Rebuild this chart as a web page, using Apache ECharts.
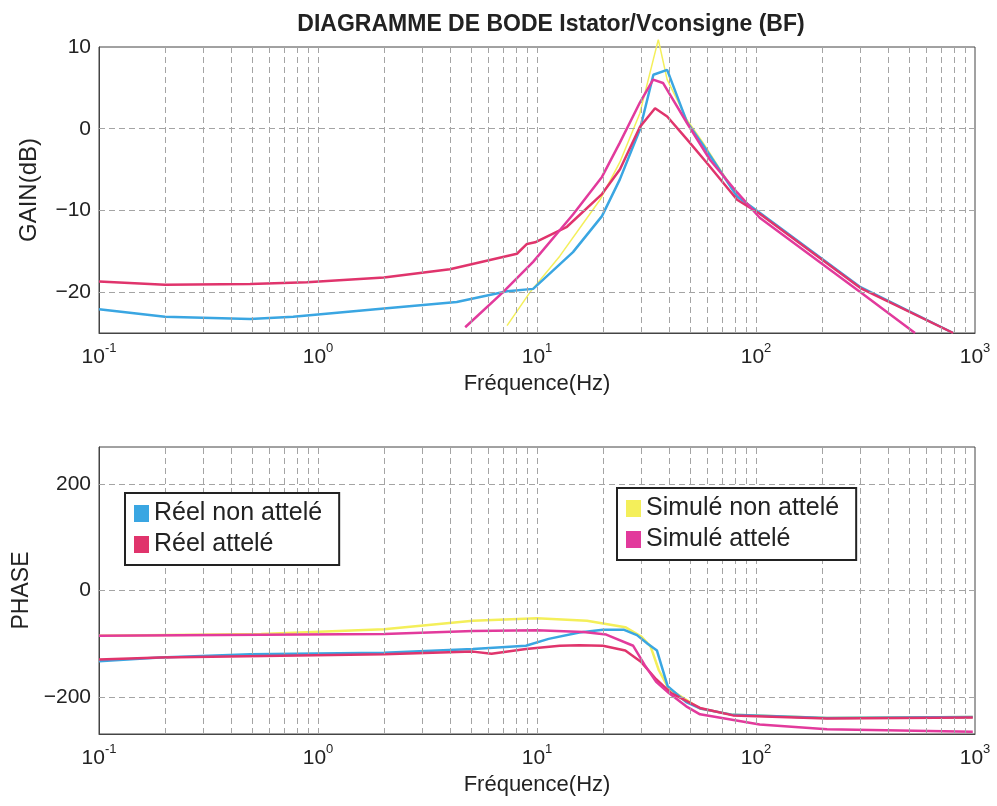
<!DOCTYPE html>
<html>
<head>
<meta charset="utf-8">
<script src="https://cdn.jsdelivr.net/npm/echarts@6/dist/echarts.min.js"></script>
<style>
  html, body { margin: 0; padding: 0; background: #fff; }
  #chart { width: 997px; height: 806px; }
</style>
</head>
<body>
<div id="chart"></div>
<script>
// ---- data (frequency in Hz, value) ----
const gainReelNonAttele = [
  [0.1, -22.1], [0.2, -23.0], [0.49, -23.3], [0.77, -23.0], [2.0, -22.0], [4.3, -21.2],
  [7.3, -19.9], [9.6, -19.6], [14.6, -15.1], [19.8, -10.7], [23.9, -6.2], [29.5, -0.1],
  [34, 6.6], [39.3, 7.2], [48.4, 0.8], [57.3, -2.0], [82, -8.3], [104, -10.3], [300, -19.4], [795, -25]
];
const gainReelAttele = [
  [0.1, -18.7], [0.2, -19.1], [0.49, -19.0], [0.89, -18.8], [2.0, -18.2], [4.0, -17.2],
  [8.1, -15.3], [9.0, -14.1], [9.8, -13.9], [13.7, -12.0], [19.8, -8.0], [23.9, -5.0],
  [29.5, 0.2], [34.6, 2.5], [39.3, 1.5], [48.4, -1.3], [59.7, -4.2], [82, -8.7], [104, -10.4],
  [300, -19.5], [795, -25]
];
const gainSimuleNonAttele = [
  [7.3, -24.1], [9.3, -20.0], [12.7, -15.6], [19.4, -8.7], [23.9, -4.1], [29.5, 1.9],
  [35.8, 10.9], [39.3, 6.0], [48.4, 1.1], [57.3, -1.7], [82, -8.2], [104, -10.3], [300, -19.4], [795, -25]
];
const gainSimuleAttele = [
  [4.7, -24.3], [7.0, -20.0], [9.6, -16.3], [14.6, -10.5], [19.8, -5.9], [23.9, -1.7],
  [29.5, 3.2], [33.9, 6.0], [37.6, 5.6], [48.4, 0.7], [61.6, -3.8], [82, -7.8], [104, -10.9],
  [300, -20.0], [532, -25]
];

const phaseReelNonAttele = [
  [0.1, -133], [0.19, -126], [0.49, -120], [2, -117], [5.1, -110], [8.9, -104], [11.3, -91],
  [15.6, -79], [20, -74], [25, -74], [28.6, -84], [32, -100], [35.3, -113], [39.5, -180],
  [48, -210], [55.5, -222], [78.5, -234], [211, -240], [977, -238]
];
const phaseReelAttele = [
  [0.1, -130], [0.19, -126], [2, -120], [5.1, -115], [6.2, -119], [8.9, -110], [12.7, -104],
  [15.6, -103], [20, -104], [25.3, -113], [29.8, -134], [35, -167], [41, -193], [55.5, -221],
  [78.5, -235], [211, -241], [977, -239]
];
const phaseSimuleNonAttele = [
  [0.1, -85], [0.55, -82], [2, -73], [5.1, -57], [10, -52], [16.9, -57], [25.3, -69],
  [29.8, -86], [33, -105], [36, -150], [40, -185], [55.5, -222], [78.5, -234], [211, -240], [977, -238]
];
const phaseSimuleAttele = [
  [0.1, -85], [2, -82], [5.1, -76], [10, -75], [16.3, -78], [20.7, -83], [27.5, -104],
  [31, -140], [35, -172], [40, -193], [48, -218], [55.5, -233], [104, -252], [211, -261], [977, -266]
];

const gainTicks = [-20, -10, 0, 10];
const phaseTicks = [-200, 0, 200];
const seriesNames = ['Réel non attelé', 'Réel attelé', 'Simulé non attelé', 'Simulé attelé'];
const colors = {
  'Réel non attelé': '#3aa6e2',
  'Réel attelé': '#e0346c',
  'Simulé non attelé': '#f4ef5a',
  'Simulé attelé': '#e23a9c'
};

// log grid lines (2..9 of every decade, plus the decades)
const vGrid = [];
for (let d = -1; d < 3; d++) {
  for (let m = 1; m <= 9; m++) {
    if (d === -1 && m === 1) continue;
    vGrid.push(+(m * Math.pow(10, d)).toPrecision(3));
  }
}

const font = '"Liberation Sans", Arial, sans-serif';
const gridStyle = { color: '#a4a4a4', type: [6, 4], width: 1 };
const minus = v => String(v).replace('-', '\u2212');

const chart = echarts.init(document.getElementById('chart'));

const xAxisBase = {
  type: 'log',
  logBase: 10,
  min: 0.1,
  max: 1000,
  name: 'Fréquence(Hz)',
  nameLocation: 'middle',
  nameGap: 40,
  nameTextStyle: { fontFamily: font, fontSize: 22, color: '#222' },
  axisLine: { show: true, onZero: false, lineStyle: { color: '#444' } },
  axisTick: { show: false },
  splitLine: { show: false },
  axisLabel: {
    margin: 9,
    formatter: v => '{b|10}{s|' + Math.round(Math.log10(v)) + '}',
    rich: {
      b: { fontFamily: font, fontSize: 21, color: '#222', lineHeight: 26, verticalAlign: 'bottom' },
      s: { fontFamily: font, fontSize: 13, color: '#222', lineHeight: 26, verticalAlign: 'top' }
    }
  }
};

function gridSeries(xi, hLines) {
  return {
    type: 'line',
    xAxisIndex: xi,
    yAxisIndex: xi,
    data: [],
    silent: true,
    z: 1,
    markLine: {
      silent: true,
      symbol: 'none',
      label: { show: false },
      animation: false,
      lineStyle: gridStyle,
      data: vGrid.map(v => ({ xAxis: v })).concat(hLines.map(v => ({ yAxis: v })))
    }
  };
}

function curve(name, data, xi, width, clip) {
  return {
    name: name,
    type: 'line',
    xAxisIndex: xi,
    yAxisIndex: xi,
    data: data,
    showSymbol: false,
    symbol: 'none',
    clip: clip,
    z: 3,
    color: colors[name],
    lineStyle: { width: width, color: colors[name] }
  };
}

const legendBase = {
  orient: 'vertical',
  icon: 'rect',
  itemWidth: 15,
  itemHeight: 17,
  itemGap: 6,
  backgroundColor: '#fff',
  borderColor: '#222',
  borderWidth: 2,
  borderRadius: 0,
  padding: [8, 17, 8, 9],
  textStyle: { fontFamily: font, fontSize: 25, color: '#222' },
  selectedMode: false,
  z: 10
};

chart.setOption({
  animation: false,
  backgroundColor: '#fff',
  title: {
    text: 'DIAGRAMME DE BODE Istator/Vconsigne (BF)',
    left: 546,
    textAlign: 'center',
    top: 8,
    textStyle: { fontFamily: font, fontSize: 23, fontWeight: 'bold', color: '#222' }
  },
  legend: [
    Object.assign({}, legendBase, { data: seriesNames.slice(0, 2), left: 125, top: 493 }),
    Object.assign({}, legendBase, { data: seriesNames.slice(2), left: 617, top: 488 })
  ],
  grid: [
    { left: 99, right: 22, top: 47, height: 286, show: true, borderColor: '#444', borderWidth: 1 },
    { left: 99, right: 22, top: 447, height: 287, show: true, borderColor: '#444', borderWidth: 1 }
  ],
  xAxis: [
    Object.assign({}, xAxisBase, { gridIndex: 0 }),
    Object.assign({}, xAxisBase, { gridIndex: 1 })
  ],
  yAxis: [
    {
      gridIndex: 0,
      type: 'value',
      min: -25,
      max: 10,
      name: 'GAIN(dB)',
      nameLocation: 'middle',
      nameGap: 58,
      nameTextStyle: { fontFamily: font, fontSize: 24, color: '#222' },
      axisLine: { show: true, lineStyle: { color: '#444' } },
      axisTick: { show: false },
      splitLine: { show: false },
      axisLabel: { customValues: gainTicks, formatter: minus, fontFamily: font, fontSize: 21, color: '#222', margin: 8 }
    },
    {
      gridIndex: 1,
      type: 'value',
      min: -270,
      max: 270,
      name: 'PHASE',
      nameLocation: 'middle',
      nameGap: 56,
      nameTextStyle: { fontFamily: font, fontSize: 23, color: '#222' },
      axisLine: { show: true, lineStyle: { color: '#444' } },
      axisTick: { show: false },
      splitLine: { show: false },
      axisLabel: { customValues: phaseTicks, formatter: minus, fontFamily: font, fontSize: 21, color: '#222', margin: 8 }
    }
  ],
  series: [
    gridSeries(0, gainTicks.filter(v => v < 10)),
    gridSeries(1, phaseTicks),
    curve('Simulé non attelé', gainSimuleNonAttele, 0, 1.5, false),
    curve('Réel non attelé', gainReelNonAttele, 0, 2.5, true),
    curve('Réel attelé', gainReelAttele, 0, 2.5, true),
    curve('Simulé attelé', gainSimuleAttele, 0, 2.5, true),
    curve('Simulé non attelé', phaseSimuleNonAttele, 1, 2.5, true),
    curve('Réel non attelé', phaseReelNonAttele, 1, 2.5, true),
    curve('Réel attelé', phaseReelAttele, 1, 2.5, true),
    curve('Simulé attelé', phaseSimuleAttele, 1, 2.5, true)
  ]
});
</script>
</body>
</html>
